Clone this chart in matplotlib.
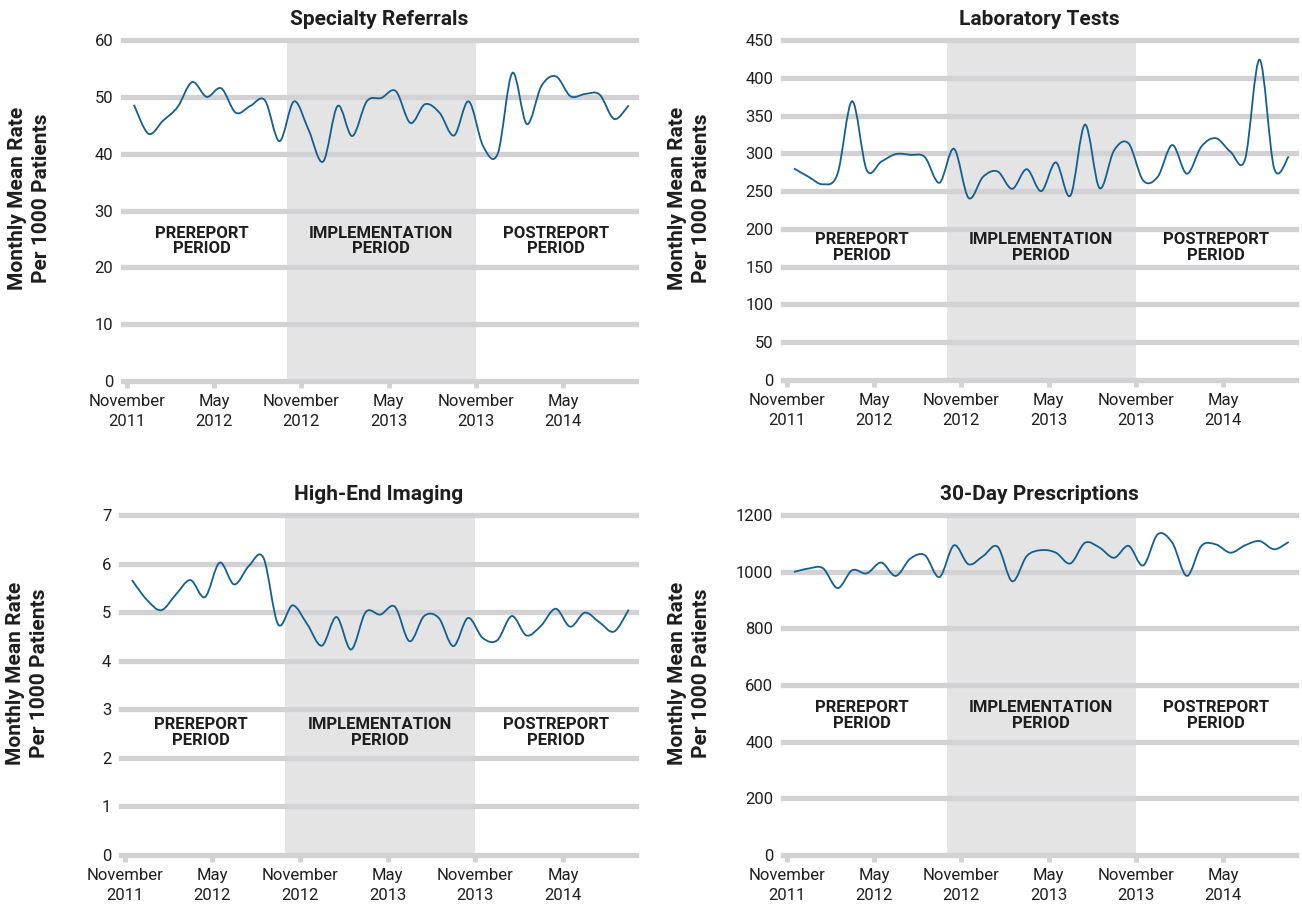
import numpy as np
import matplotlib
matplotlib.use("Agg")
import matplotlib.pyplot as plt
from matplotlib.path import Path
from matplotlib.patches import PathPatch

plt.rcParams['font.family'] = ['Roboto', 'DejaVu Sans']

# months since November 2011 (points drawn mid-month), Nov 2011 .. Sep 2014
months = np.arange(35) + 0.5
tick_pos = [0, 6, 12, 18, 24, 30]
tick_labels = ['November\n2011', 'May\n2012', 'November\n2012',
               'May\n2013', 'November\n2013', 'May\n2014']
impl_start, impl_end = 11, 24

referrals = [48.6, 43.5, 45.8, 48.2, 52.6, 50.0, 51.5, 47.2, 48.4, 49.4,
             42.2, 49.2, 44.2, 38.6, 48.4, 43.1, 49.2, 49.8, 51.0, 45.4,
             48.7, 47.2, 43.2, 49.2, 41.3, 40.0, 54.2, 45.2, 51.9, 53.6,
             50.1, 50.5, 50.4, 46.1, 48.5]
lab_tests = [280, 269, 259, 273, 369, 278, 289, 299, 298, 295,
             261, 306, 241, 269, 276, 253, 279, 250, 288, 244,
             338, 254, 304, 313, 264, 269, 311, 273, 309, 320,
             302, 292, 424, 280, 296]
imaging = [5.66, 5.26, 5.04, 5.36, 5.66, 5.31, 6.02, 5.57, 5.95, 6.12,
           4.75, 5.14, 4.75, 4.31, 4.90, 4.23, 5.00, 4.95, 5.11, 4.40,
           4.92, 4.88, 4.30, 4.88, 4.47, 4.42, 4.92, 4.52, 4.72, 5.07,
           4.70, 4.99, 4.79, 4.60, 5.05]
prescriptions = [999, 1011, 1012, 942, 1005, 994, 1032, 985, 1046, 1058,
                 981, 1093, 1026, 1055, 1088, 966, 1055, 1076, 1067, 1029,
                 1102, 1085, 1049, 1091, 1022, 1132, 1102, 985, 1091, 1096,
                 1067, 1093, 1108, 1079, 1105]

panels = [
    ('Specialty Referrals', referrals, np.arange(0, 61, 10), 0.41),
    ('Laboratory Tests', lab_tests, np.arange(0, 451, 50), 0.39),
    ('High-End Imaging', imaging, np.arange(0, 8, 1), 0.36),
    ('30-Day Prescriptions', prescriptions, np.arange(0, 1201, 200), 0.41),
]

# axes rectangles in pixels: left, top, right, bottom
W, H = 1302, 905
rects = [(123, 40, 636, 381), (783, 40, 1296, 380),
         (121, 515, 636, 855), (783, 515, 1296, 855)]

line_col = '#135f8f'
grid_col = '#d2d2d4'
shade_col = '#e4e4e4'
text_col = '#1e1e1e'


def smooth_path(x, y):
    pts = np.column_stack([x, y])
    n = len(pts)
    verts = [pts[0]]
    codes = [Path.MOVETO]
    for i in range(n - 1):
        p0 = pts[i - 1] if i > 0 else pts[i]
        p3 = pts[i + 2] if i + 2 < n else pts[i + 1]
        c1 = pts[i] + (pts[i + 1] - p0) / 6.0
        c2 = pts[i + 1] - (p3 - pts[i]) / 6.0
        verts += [c1, c2, pts[i + 1]]
        codes += [Path.CURVE4] * 3
    return Path(verts, codes)


fig = plt.figure(figsize=(W / 100, H / 100), dpi=100, facecolor='white')

for (title, vals, yticks, lab_y), (l, t, r, b) in zip(panels, rects):
    ax = fig.add_axes([l / W, 1 - b / H, (r - l) / W, (b - t) / H])
    ax.set_xlim(-0.25, 35.0)
    ax.set_ylim(0, yticks[-1])
    ax.axvspan(impl_start, impl_end, color=shade_col, lw=0, zorder=0)
    for v in yticks:
        ax.axhline(v, color=grid_col, lw=3.8, zorder=1, clip_on=False)
    ax.add_patch(PathPatch(smooth_path(months, vals), fill=False,
                           edgecolor=line_col, lw=1.3, zorder=3))
    for s in ax.spines.values():
        s.set_visible(False)
    ax.set_yticks(yticks)
    ax.set_yticklabels([str(v) for v in yticks])
    ax.set_xticks(tick_pos)
    ax.set_xticklabels(tick_labels, linespacing=1.45)
    ax.tick_params(axis='y', length=0, pad=7, labelsize=12, labelcolor=text_col)
    ax.tick_params(axis='x', length=5, width=3.5, color=grid_col, pad=4,
                   labelsize=12, labelcolor=text_col)
    ax.set_title(title, fontsize=15, fontweight='bold', color=text_col, pad=11)
    ax.set_ylabel('Monthly Mean Rate\nPer 1000 Patients', fontsize=15,
                  fontweight='bold', color=text_col, linespacing=1.35)
    ax.yaxis.set_label_coords(-0.14, 0.535)
    for xc, txt in [(5.2, 'PREREPORT\nPERIOD'), (17.5, 'IMPLEMENTATION\nPERIOD'),
                    (29.5, 'POSTREPORT\nPERIOD')]:
        ax.text(xc, lab_y, txt, transform=ax.get_xaxis_transform(),
                ha='center', va='center', fontsize=12, fontweight='bold',
                color=text_col, linespacing=1.05)

fig.savefig('out.png', dpi=100, facecolor='white')
